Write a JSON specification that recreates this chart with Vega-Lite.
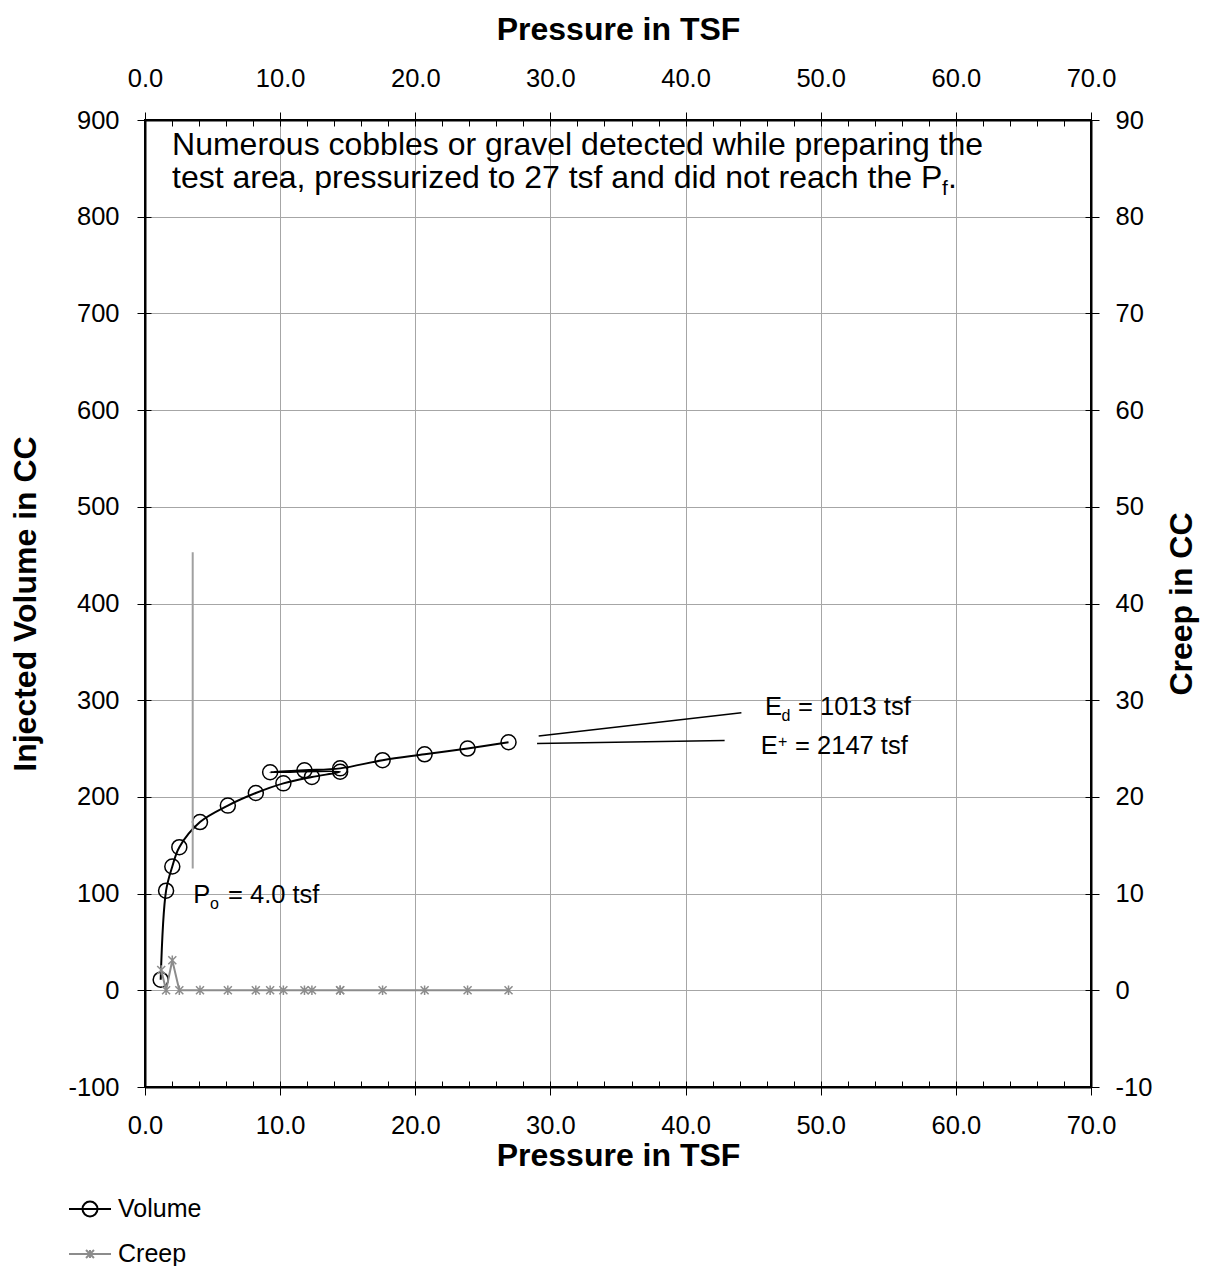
{
  "$schema": "https://vega.github.io/schema/vega-lite/v6.json",
  "width": 946,
  "height": 967,
  "autosize": {"type": "none"},
  "padding": {"left": 145, "top": 120, "right": 114, "bottom": 179},
  "background": "white",
  "config": {
    "font": "Liberation Sans",
    "view": {"stroke": "black", "strokeWidth": 2},
    "axis": {
      "labelFont": "Liberation Sans", "labelFontSize": 25.5, "labelColor": "black",
      "titleFont": "Liberation Sans", "titleFontSize": 32, "titleFontWeight": "bold", "titleColor": "black",
      "tickColor": "black", "tickWidth": 1, "domainColor": "black", "domainWidth": 2,
      "gridColor": "#a6a6a6", "gridWidth": 1, "gridOpacity": 1,
      "labelOverlap": false, "labelFlush": false, "labelBound": false
    }
  },
  "datasets": {
    "volume": [
      {"i": 1, "p": 1.16, "v": 11, "series": "Volume"},
      {"i": 2, "p": 1.56, "v": 103, "series": "Volume"},
      {"i": 3, "p": 2.02, "v": 128, "series": "Volume"},
      {"i": 4, "p": 2.54, "v": 148, "series": "Volume"},
      {"i": 5, "p": 4.07, "v": 174, "series": "Volume"},
      {"i": 6, "p": 6.13, "v": 191, "series": "Volume"},
      {"i": 7, "p": 8.2, "v": 204, "series": "Volume"},
      {"i": 8, "p": 10.24, "v": 214, "series": "Volume"},
      {"i": 9, "p": 12.35, "v": 220.6, "series": "Volume"},
      {"i": 10, "p": 14.44, "v": 226, "series": "Volume"},
      {"i": 11, "p": 9.26, "v": 225.5, "series": "Volume"},
      {"i": 12, "p": 11.8, "v": 227.5, "series": "Volume"},
      {"i": 13, "p": 14.44, "v": 229.5, "series": "Volume"},
      {"i": 14, "p": 17.58, "v": 238, "series": "Volume"},
      {"i": 15, "p": 20.69, "v": 244, "series": "Volume"},
      {"i": 16, "p": 23.87, "v": 250, "series": "Volume"},
      {"i": 17, "p": 26.9, "v": 256.5, "series": "Volume"}
    ],
    "creep": [
      {"i": 1, "p": 1.2, "c": 2.1, "series": "Creep"},
      {"i": 2, "p": 1.56, "c": 0, "series": "Creep"},
      {"i": 3, "p": 2.02, "c": 3.1, "series": "Creep"},
      {"i": 4, "p": 2.54, "c": 0, "series": "Creep"},
      {"i": 5, "p": 4.07, "c": 0, "series": "Creep"},
      {"i": 6, "p": 6.13, "c": 0, "series": "Creep"},
      {"i": 7, "p": 8.2, "c": 0, "series": "Creep"},
      {"i": 8, "p": 10.24, "c": 0, "series": "Creep"},
      {"i": 9, "p": 12.35, "c": 0, "series": "Creep"},
      {"i": 10, "p": 14.44, "c": 0, "series": "Creep"},
      {"i": 11, "p": 9.26, "c": 0, "series": "Creep"},
      {"i": 12, "p": 11.8, "c": 0, "series": "Creep"},
      {"i": 13, "p": 14.44, "c": 0, "series": "Creep"},
      {"i": 14, "p": 17.58, "c": 0, "series": "Creep"},
      {"i": 15, "p": 20.69, "c": 0, "series": "Creep"},
      {"i": 16, "p": 23.87, "c": 0, "series": "Creep"},
      {"i": 17, "p": 26.9, "c": 0, "series": "Creep"}
    ],
    "poline": [{"p": 3.53, "v": 126, "v2": 453}],
    "leaders": [
      {"p": 29.13, "v": 263, "p2": 44.13, "v2": 286.9},
      {"p": 29.01, "v": 255.2, "p2": 42.89, "v2": 258.3}
    ],
    "bigtext": [
      {"p": 2.0, "v": 863.5, "t": "Numerous cobbles or gravel detected while preparing the"},
      {"p": 2.0, "v": 829.4, "t": "test area, pressurized to 27 tsf and did not reach the P"},
      {"p": 59.42, "v": 829.4, "t": "."}
    ],
    "bigsub": [{"p": 58.98, "v": 829.4, "t": "f"}],
    "midtext": [
      {"p": 3.574, "v": 90, "t": "P"},
      {"p": 6.14, "v": 90, "t": "= 4.0 tsf"},
      {"p": 45.88, "v": 284.4, "t": "E"},
      {"p": 48.32, "v": 284.4, "t": "= 1013 tsf"},
      {"p": 45.56, "v": 244.1, "t": "E"},
      {"p": 48.1, "v": 244.1, "t": "= 2147 tsf"}
    ],
    "midsub": [
      {"p": 4.81, "v": 90, "t": "o"},
      {"p": 47.1, "v": 284.4, "t": "d"}
    ],
    "midsup": [{"p": 46.84, "v": 244.1, "t": "+"}]
  },
  "layer": [
    {
      "data": {"name": "volume"},
      "mark": {"type": "line", "interpolate": "catmull-rom", "strokeWidth": 2},
      "encoding": {
        "x": {"field": "p", "type": "quantitative", "scale": {"domain": [0, 70], "nice": false, "zero": false},
          "axis": {"orient": "bottom", "values": [0, 10, 20, 30, 40, 50, 60, 70], "format": ".1f", "tickSize": 8, "grid": true, "labelPadding": 18, "title": "Pressure in TSF", "titlePadding": 2}},
        "y": {"field": "v", "type": "quantitative", "scale": {"domain": [-100, 900], "nice": false, "zero": false},
          "axis": {"orient": "left", "values": [-100, 0, 100, 200, 300, 400, 500, 600, 700, 800, 900], "labelExpr": "datum.value < 0 ? '-' + abs(datum.value) : '' + datum.value", "tickSize": 8, "grid": true, "labelPadding": 18, "title": "Injected Volume in CC", "titlePadding": 25}},
        "color": {"field": "series", "type": "nominal",
          "scale": {"domain": ["Volume", "Creep"], "range": ["black", "#8c8c8c"]},
          "legend": {"orient": "none", "legendX": -77, "legendY": 1067, "title": null, "direction": "vertical",
            "symbolSize": 1764, "symbolStrokeWidth": 2, "labelFontSize": 25, "labelFont": "Liberation Sans", "labelColor": "black",
            "labelOffset": 6, "rowPadding": 10, "padding": 0, "symbolType": "stroke",
            "encode": {"symbols": {"update": {
              "shape": {"signal": "datum.value === 'Volume' ? 'M-1,0L1,0M0.357,0A0.357,0.357 0 1,1 -0.357,0A0.357,0.357 0 1,1 0.357,0' : 'M-1,0L1,0M-0.19,-0.19L0.19,0.19M-0.19,0.19L0.19,-0.19M0,-0.19L0,0.19'"},
              "fill": {"value": "transparent"}}}}}},
        "order": {"field": "i", "type": "quantitative"}
      }
    },
    {
      "data": {"name": "volume"},
      "mark": {"type": "point", "shape": "circle", "filled": false, "size": 225, "strokeWidth": 1.5, "color": "black", "opacity": 1},
      "encoding": {
        "x": {"field": "p", "type": "quantitative", "scale": {"domain": [0, 70], "nice": false, "zero": false}, "axis": null},
        "y": {"field": "v", "type": "quantitative", "scale": {"domain": [-100, 900], "nice": false, "zero": false}, "axis": null}
      }
    },
    {
      "data": {"name": "creep"},
      "mark": {"type": "line", "strokeWidth": 2},
      "encoding": {
        "x": {"field": "p", "type": "quantitative", "scale": {"domain": [0, 70], "nice": false, "zero": false},
          "axis": {"orient": "top", "values": [0, 10, 20, 30, 40, 50, 60, 70], "format": ".1f", "tickSize": 8, "grid": false, "labelPadding": 21, "title": "Pressure in TSF", "titlePadding": 20}},
        "y": {"field": "c", "type": "quantitative", "scale": {"domain": [-10, 90], "nice": false, "zero": false},
          "axis": {"orient": "right", "values": [-10, 0, 10, 20, 30, 40, 50, 60, 70, 80, 90], "labelExpr": "datum.value < 0 ? '-' + abs(datum.value) : '' + datum.value", "tickSize": 8, "grid": false, "labelPadding": 16, "title": "Creep in CC", "titleAngle": 270, "titleBaseline": "top", "titlePadding": 15}},
        "color": {"field": "series", "type": "nominal", "scale": {"domain": ["Volume", "Creep"], "range": ["black", "#8c8c8c"]}},
        "order": {"field": "i", "type": "quantitative"}
      }
    },
    {
      "data": {"name": "creep"},
      "mark": {"type": "point", "shape": "M-1,-1L1,1M-1,1L1,-1M0,-1.2L0,1.2", "filled": false, "size": 64, "strokeWidth": 1.5, "color": "#8c8c8c", "opacity": 1},
      "encoding": {
        "x": {"field": "p", "type": "quantitative", "scale": {"domain": [0, 70], "nice": false, "zero": false}, "axis": null},
        "y": {"field": "c", "type": "quantitative", "scale": {"domain": [-10, 90], "nice": false, "zero": false}, "axis": null}
      }
    },
    {
      "data": {"name": "volume"},
      "mark": {"type": "point", "opacity": 0},
      "encoding": {
        "x": {"field": "p", "type": "quantitative", "scale": {"domain": [0, 70], "nice": false, "zero": false},
          "axis": {"orient": "bottom", "values": [0, 2, 4, 6, 8, 10, 12, 14, 16, 18, 20, 22, 24, 26, 28, 30, 32, 34, 36, 38, 40, 42, 44, 46, 48, 50, 52, 54, 56, 58, 60, 62, 64, 66, 68, 70], "tickSize": -6, "labels": false, "domain": false, "grid": false, "title": null}},
        "y": {"field": "v", "type": "quantitative", "scale": {"domain": [-100, 900], "nice": false, "zero": false},
          "axis": {"orient": "left", "values": [-100, 0, 100, 200, 300, 400, 500, 600, 700, 800, 900], "tickSize": -6, "labels": false, "domain": false, "grid": false, "title": null}}
      }
    },
    {
      "data": {"name": "creep"},
      "mark": {"type": "point", "opacity": 0},
      "encoding": {
        "x": {"field": "p", "type": "quantitative", "scale": {"domain": [0, 70], "nice": false, "zero": false},
          "axis": {"orient": "top", "values": [0, 2, 4, 6, 8, 10, 12, 14, 16, 18, 20, 22, 24, 26, 28, 30, 32, 34, 36, 38, 40, 42, 44, 46, 48, 50, 52, 54, 56, 58, 60, 62, 64, 66, 68, 70], "tickSize": -6, "labels": false, "domain": false, "grid": false, "title": null}},
        "y": {"field": "c", "type": "quantitative", "scale": {"domain": [-10, 90], "nice": false, "zero": false},
          "axis": {"orient": "right", "values": [-10, 0, 10, 20, 30, 40, 50, 60, 70, 80, 90], "tickSize": -6, "labels": false, "domain": false, "grid": false, "title": null}}
      }
    },
    {
      "data": {"name": "poline"},
      "mark": {"type": "rule", "color": "#a0a0a0", "strokeWidth": 2},
      "encoding": {
        "x": {"field": "p", "type": "quantitative", "scale": {"domain": [0, 70], "nice": false, "zero": false}, "axis": null},
        "y": {"field": "v", "type": "quantitative", "scale": {"domain": [-100, 900], "nice": false, "zero": false}, "axis": null},
        "y2": {"field": "v2"}
      }
    },
    {
      "data": {"name": "leaders"},
      "mark": {"type": "rule", "color": "black", "strokeWidth": 1.5},
      "encoding": {
        "x": {"field": "p", "type": "quantitative", "scale": {"domain": [0, 70], "nice": false, "zero": false}, "axis": null},
        "y": {"field": "v", "type": "quantitative", "scale": {"domain": [-100, 900], "nice": false, "zero": false}, "axis": null},
        "x2": {"field": "p2"},
        "y2": {"field": "v2"}
      }
    },
    {
      "data": {"name": "bigtext"},
      "mark": {"type": "text", "align": "left", "baseline": "alphabetic", "fontSize": 32, "font": "Liberation Sans", "color": "black"},
      "encoding": {
        "x": {"field": "p", "type": "quantitative", "scale": {"domain": [0, 70], "nice": false, "zero": false}, "axis": null},
        "y": {"field": "v", "type": "quantitative", "scale": {"domain": [-100, 900], "nice": false, "zero": false}, "axis": null},
        "text": {"field": "t"}
      }
    },
    {
      "data": {"name": "bigsub"},
      "mark": {"type": "text", "align": "left", "baseline": "alphabetic", "fontSize": 21, "dy": 7, "font": "Liberation Sans", "color": "black"},
      "encoding": {
        "x": {"field": "p", "type": "quantitative", "scale": {"domain": [0, 70], "nice": false, "zero": false}, "axis": null},
        "y": {"field": "v", "type": "quantitative", "scale": {"domain": [-100, 900], "nice": false, "zero": false}, "axis": null},
        "text": {"field": "t"}
      }
    },
    {
      "data": {"name": "midtext"},
      "mark": {"type": "text", "align": "left", "baseline": "alphabetic", "fontSize": 25.5, "font": "Liberation Sans", "color": "black"},
      "encoding": {
        "x": {"field": "p", "type": "quantitative", "scale": {"domain": [0, 70], "nice": false, "zero": false}, "axis": null},
        "y": {"field": "v", "type": "quantitative", "scale": {"domain": [-100, 900], "nice": false, "zero": false}, "axis": null},
        "text": {"field": "t"}
      }
    },
    {
      "data": {"name": "midsub"},
      "mark": {"type": "text", "align": "left", "baseline": "alphabetic", "fontSize": 16, "dy": 6, "font": "Liberation Sans", "color": "black"},
      "encoding": {
        "x": {"field": "p", "type": "quantitative", "scale": {"domain": [0, 70], "nice": false, "zero": false}, "axis": null},
        "y": {"field": "v", "type": "quantitative", "scale": {"domain": [-100, 900], "nice": false, "zero": false}, "axis": null},
        "text": {"field": "t"}
      }
    },
    {
      "data": {"name": "midsup"},
      "mark": {"type": "text", "align": "left", "baseline": "alphabetic", "fontSize": 16, "dy": -7, "font": "Liberation Sans", "color": "black"},
      "encoding": {
        "x": {"field": "p", "type": "quantitative", "scale": {"domain": [0, 70], "nice": false, "zero": false}, "axis": null},
        "y": {"field": "v", "type": "quantitative", "scale": {"domain": [-100, 900], "nice": false, "zero": false}, "axis": null},
        "text": {"field": "t"}
      }
    }
  ],
  "resolve": {
    "scale": {"x": "independent", "y": "independent"},
    "axis": {"x": "independent", "y": "independent"}
  }
}
